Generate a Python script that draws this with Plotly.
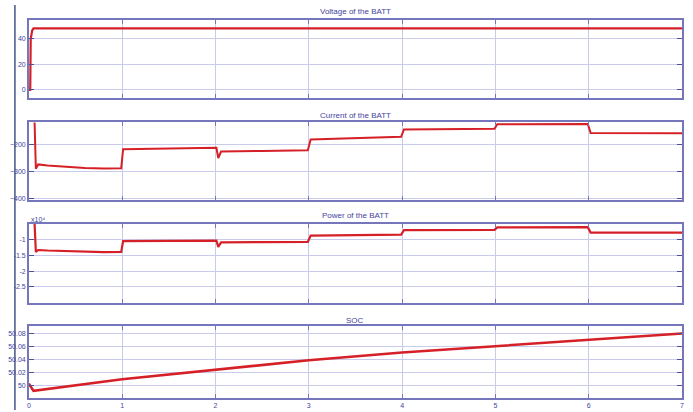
import plotly.graph_objects as go
from plotly.subplots import make_subplots

# ---- data (time in s) ----
volt_t = [0.0, 0.015, 0.02, 0.035, 0.05, 7.0]
volt_v = [0.0, 0.0, 40.0, 46.5, 48.3, 48.3]

curr_t = [0.0, 0.06, 0.075, 0.1, 0.2, 0.4, 0.6, 0.8, 0.99, 1.01, 1.5, 1.99,
          2.01, 2.03, 2.06, 2.5, 2.99, 3.02, 3.5, 3.99, 4.02, 4.5, 4.99,
          5.02, 5.5, 5.99, 6.02, 6.5, 7.0]
curr_v = [-100, -100, -290, -274, -278, -283, -287, -289, -288, -218, -215, -212,
          -212, -250, -226, -224, -221, -181, -176, -171, -144, -143, -142,
          -125, -124, -124, -157, -157, -158]

pow_t = [0.0, 0.06, 0.075, 0.1, 0.2, 0.4, 0.6, 0.8, 0.99, 1.01, 1.5, 1.99,
         2.01, 2.03, 2.06, 2.5, 2.99, 3.02, 3.5, 3.99, 4.02, 4.5, 4.99,
         5.02, 5.5, 5.99, 6.02, 6.5, 7.0]
pow_v = [-4000, -4000, -13900, -13300, -13450, -13650, -13850, -13950, -13900,
         -10450, -10400, -10300, -10300, -12300, -10900, -10800, -10700,
         -8700, -8550, -8400, -7000, -6950, -6900, -6100, -6050, -6050,
         -7750, -7750, -7800]

soc_t = [0.0, 0.05, 1.0, 2.0, 3.0, 4.0, 5.0, 6.0, 7.0]
soc_v = [50.003, 49.992, 50.010, 50.025, 50.039, 50.051, 50.061, 50.070, 50.080]

titles = ["Voltage of the BATT", "Current of the BATT", "Power of the BATT", "SOC"]
x_ticks = [0, 1, 2, 3, 4, 5, 6, 7]

volt_ticks = [0, 20, 40]
curr_ticks = [-400, -300, -200]
pow_ticks = [-25000, -20000, -15000, -10000]
pow_tick_text = ["-2.5", "-2", "-1.5", "-1"]
soc_ticks = [50.0, 50.02, 50.04, 50.06, 50.08]
soc_tick_text = ["50", "50.02", "50.04", "50.06", "50.08"]

# ---- styling ----
W, H = 693, 412
RED = "#d62028"
FRAME = "#7676bc"
GRID = "#cacaea"
TXT = "#4444a0"
FONT = "Liberation Sans Narrow, Liberation Sans, Arial"

def px_y(top, bottom):
    return [1 - bottom / H, 1 - top / H]

x_dom = [27 / W, 684 / W]
panels = [(20, 98), (123, 201), (225, 304), (328, 400)]

fig = make_subplots(rows=4, cols=1, shared_xaxes=True)

series = [(volt_t, volt_v), (curr_t, curr_v), (pow_t, pow_v), (soc_t, soc_v)]
widths = [2.2, 2.0, 2.2, 2.6]
for i, (t, v) in enumerate(series):
    fig.add_trace(go.Scatter(x=t, y=v, mode="lines",
                             line=dict(color=RED, width=widths[i]),
                             showlegend=False, hoverinfo="skip"),
                  row=i + 1, col=1)

y_cfg = [
    dict(range=[-6, 55], tickvals=volt_ticks),
    dict(range=[-406, -118], tickvals=curr_ticks),
    dict(range=[-30000, -5000], tickvals=pow_ticks, ticktext=pow_tick_text),
    dict(range=[49.981, 50.091], tickvals=soc_ticks, ticktext=soc_tick_text),
]

for i in range(4):
    top, bottom = panels[i]
    suffix = "" if i == 0 else str(i + 1)
    fig.layout["xaxis" + suffix].update(
        domain=x_dom, range=[0, 7], tickvals=x_ticks,
        showticklabels=(i == 3), ticks="inside", ticklen=4, tickcolor=FRAME,
        showgrid=True, gridcolor=GRID, gridwidth=1, zeroline=False,
        showline=True, linecolor=FRAME, linewidth=1.5, mirror="ticks",
        tickfont=dict(family=FONT, size=7, color=TXT),
    )
    fig.layout["yaxis" + suffix].update(
        domain=px_y(top, bottom), ticks="inside", ticklen=5, tickcolor="#50509a",
        showgrid=True, gridcolor=GRID, gridwidth=1.2, zeroline=False,
        showline=True, linecolor=FRAME, linewidth=1.5, mirror="ticks",
        tickfont=dict(family=FONT, size=7, color=TXT), **y_cfg[i],
    )

title_y = [12, 116, 217, 322]
annotations = []
for name, ty in zip(titles, title_y):
    annotations.append(dict(text=name, x=(x_dom[0] + x_dom[1]) / 2, y=1 - ty / H,
                            xref="paper", yref="paper", showarrow=False,
                            xanchor="center", yanchor="middle",
                            font=dict(family=FONT, size=8, color=TXT)))
# exponent label for the power axis
annotations.append(dict(text="x10\u2074", x=27 / W, y=1 - 221 / H,
                        xref="paper", yref="paper", showarrow=False,
                        xanchor="left", yanchor="middle",
                        font=dict(family=FONT, size=7, color=TXT)))

fig.update_layout(
    width=W, height=H, margin=dict(l=0, r=0, t=0, b=0),
    paper_bgcolor="white", plot_bgcolor="white",
    annotations=annotations,
    shapes=[dict(type="line", xref="paper", yref="paper",
                 x0=13 / W, x1=13 / W, y0=0, y1=1 - 5 / H,
                 line=dict(color="#44548a", width=1.5))],
)

fig.write_html("out.html")
